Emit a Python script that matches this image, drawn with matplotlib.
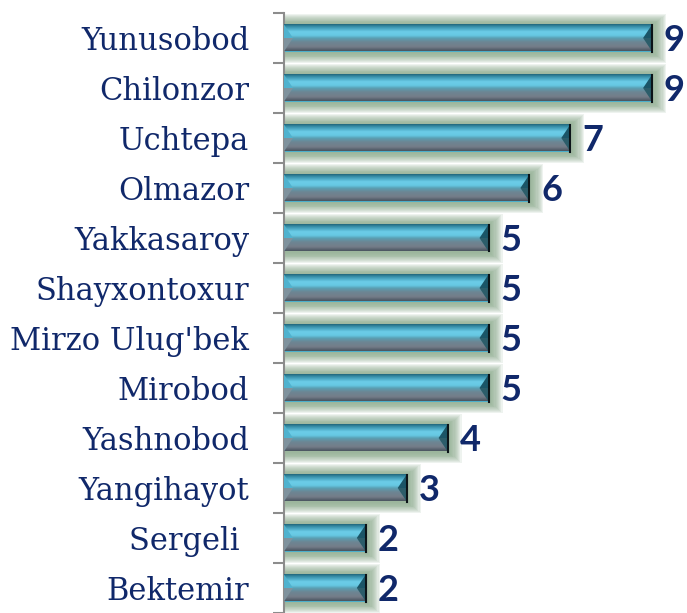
import numpy as np
import matplotlib
matplotlib.use("Agg")
import matplotlib.pyplot as plt
from matplotlib.patches import Rectangle, Polygon
from matplotlib.colors import LinearSegmentedColormap

categories = ["Yunusobod", "Chilonzor", "Uchtepa", "Olmazor", "Yakkasaroy",
              "Shayxontoxur", "Mirzo Ulug'bek", "Mirobod", "Yashnobod",
              "Yangihayot", "Sergeli ", "Bektemir"]
values = [9, 9, 7, 6, 5, 5, 5, 5, 4, 3, 2, 2]

NAVY = "#10286a"
fig = plt.figure(figsize=(6.87, 6.13), dpi=100)
ax = fig.add_axes([284 / 687, 0.0, 1 - 284 / 687, 1 - 13 / 613])

n = len(categories)
ypos = np.arange(n)
h = 0.54
ax.set_xlim(0, (687 - 284) / 40.9)
ax.set_ylim(n - 0.5, -0.5)

# glow
for k in range(12, 0, -1):
    px = 0.026 * k
    py = 0.018 * k
    for y, v in zip(ypos, values):
        ax.add_patch(Rectangle((0, y - h / 2 - py + 0.01), v + px * 1.1, h + 2 * py,
                               facecolor="#8dac8e", edgecolor="none",
                               alpha=0.14, zorder=1))

bars = ax.barh(ypos, values, height=h, color="#4aaecb", zorder=2)

cmap = LinearSegmentedColormap.from_list("bev", [
    (0.0, "#23687e"), (0.10, "#3a94ae"), (0.28, "#6ccde8"), (0.42, "#66c8e2"),
    (0.52, "#5aa0b4"), (0.66, "#6c8694"), (0.85, "#747d89"), (1.0, "#4a5560")])
grad = np.linspace(0, 1, 64).reshape(-1, 1)
b = 0.22
for bar in bars:
    x0 = bar.get_x()
    w = bar.get_width()
    yt = bar.get_y()
    yb = yt + bar.get_height()
    ym = (yt + yb) / 2
    ax.imshow(grad, cmap=cmap, aspect="auto", extent=(x0, x0 + w, yb, yt),
              zorder=3, interpolation="bilinear")
    # left bevel
    ax.add_patch(Polygon([(x0, yt), (x0 + b, ym), (x0, ym)], closed=True,
                         facecolor="#50b2ce", edgecolor="none", zorder=4))
    ax.add_patch(Polygon([(x0, ym), (x0 + b, ym), (x0, yb)], closed=True,
                         facecolor="#7f929d", edgecolor="none", zorder=4))
    # right bevel
    xe = x0 + w
    ax.add_patch(Polygon([(xe, yt), (xe - b, ym), (xe, ym)], closed=True,
                         facecolor="#1b5567", edgecolor="none", zorder=4))
    ax.add_patch(Polygon([(xe, ym), (xe - b, ym), (xe, yb)], closed=True,
                         facecolor="#2c5d6a", edgecolor="none", zorder=4))
    ax.plot([xe, xe], [yt, yb], color="#0b1418", lw=1.5, zorder=5)
    ax.annotate(f"{int(w)}", (xe, ym), xytext=(8.5, -1.5), textcoords="offset points",
                va="center", ha="left", fontsize=26, fontweight="bold",
                color=NAVY, family="Lato", zorder=6)

ax.set_yticks(ypos)
ax.set_yticklabels(categories, family="DejaVu Serif", fontsize=22, color=NAVY)
ax.tick_params(axis="y", which="major", length=0, pad=25)
ax.set_yticks(np.arange(-0.5, n, 1.0), minor=True)
ax.tick_params(axis="y", which="minor", length=8, width=1.5, color="#8c8c8c")
ax.set_xticks([])
for s in ["top", "right", "bottom"]:
    ax.spines[s].set_visible(False)
ax.spines["left"].set_color("#8c8c8c")
ax.spines["left"].set_linewidth(1.5)
ax.set_facecolor("white")

fig.savefig("out.png", dpi=100)
